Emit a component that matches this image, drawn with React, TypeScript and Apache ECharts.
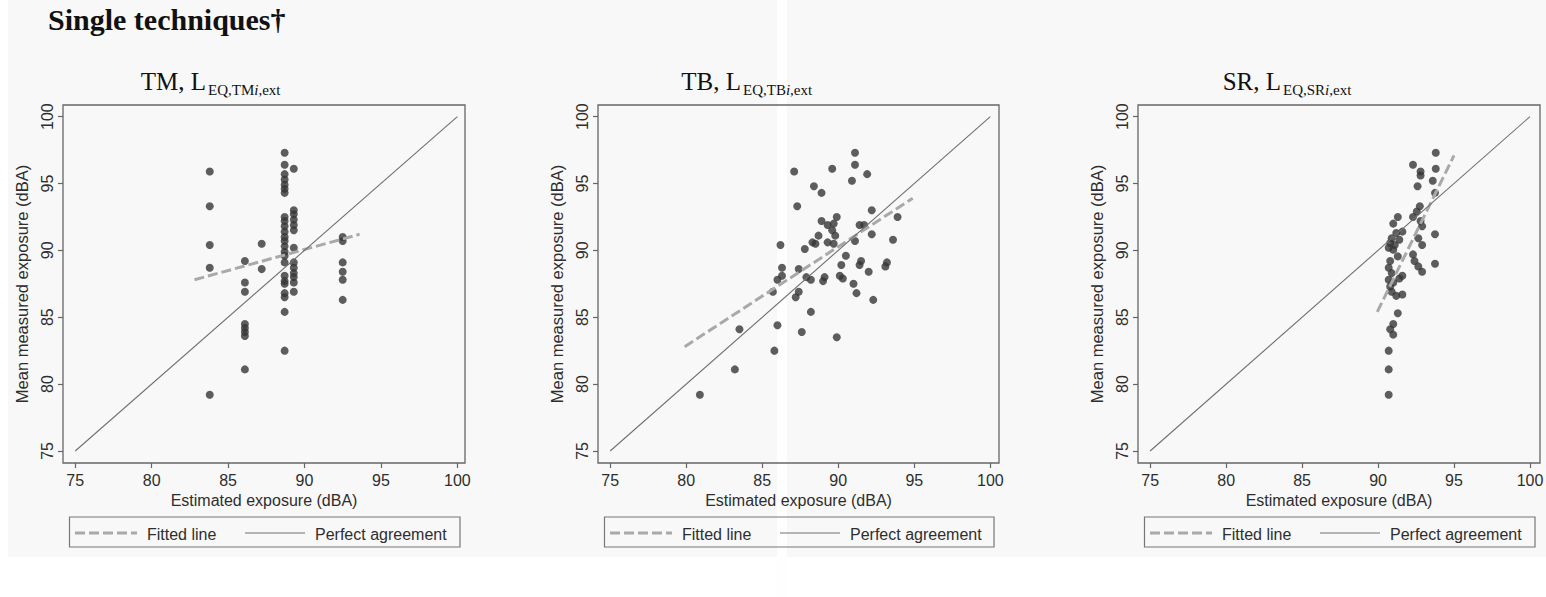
import React, { useEffect, useRef } from "react";
import * as echarts from "echarts";

// ---------- data ----------
const X_TICKS = [75, 80, 85, 90, 95, 100];
const Y_TICKS = [75, 80, 85, 90, 95, 100];

const tmPoints: [number, number][] = [
  [83.8, 95.9], [83.8, 93.3], [83.8, 90.4], [83.8, 88.7], [83.8, 79.2],
  [86.1, 89.2], [86.1, 87.6], [86.1, 86.9], [86.1, 84.5], [86.1, 84.2], [86.1, 83.9], [86.1, 83.6], [86.1, 81.1],
  [87.2, 90.5], [87.2, 88.6],
  [88.7, 97.3], [88.7, 96.4], [88.7, 95.7], [88.7, 95.3], [88.7, 94.9], [88.7, 94.6], [88.7, 94.3],
  [88.7, 92.5], [88.7, 92.2], [88.7, 91.8], [88.7, 91.4], [88.7, 91.0], [88.7, 90.7], [88.7, 90.3],
  [88.7, 89.9], [88.7, 89.6], [88.7, 89.1], [88.7, 88.1], [88.7, 87.7], [88.7, 87.5], [88.7, 86.8],
  [88.7, 86.5], [88.7, 85.4], [88.7, 82.5],
  [89.3, 96.1], [89.3, 93.0], [89.3, 92.7], [89.3, 92.3], [89.3, 91.9], [89.3, 91.5], [89.3, 90.2],
  [89.3, 89.1], [89.3, 88.7], [89.3, 88.3], [89.3, 88.0], [89.3, 87.6], [89.3, 86.9],
  [92.5, 91.0], [92.5, 90.7], [92.5, 89.1], [92.5, 88.4], [92.5, 87.8], [92.5, 86.3],
];

const tbPoints: [number, number][] = [
  [91.1, 97.3], [91.1, 96.4], [89.6, 96.1], [87.1, 95.9], [91.9, 95.7], [90.9, 95.2], [88.4, 94.8],
  [88.9, 94.3], [87.3, 93.3], [92.2, 93.0], [93.9, 92.5], [89.9, 92.5], [88.9, 92.2], [89.7, 92.0],
  [89.3, 91.9], [91.7, 91.9], [91.4, 91.9], [89.6, 91.5], [88.7, 91.1], [89.8, 91.1], [92.2, 91.2],
  [93.6, 90.8], [91.1, 90.7], [88.3, 90.6], [88.5, 90.5], [89.3, 90.6], [89.7, 90.5], [86.2, 90.4],
  [87.8, 90.1], [90.5, 89.6], [91.5, 89.2], [93.2, 89.1], [90.2, 88.9], [91.4, 88.9], [93.1, 88.8],
  [86.3, 88.7], [87.4, 88.6], [92.0, 88.4], [86.3, 88.1], [86.0, 87.8], [87.9, 88.0], [88.2, 87.8],
  [89.1, 88.0], [89.0, 87.7], [90.1, 88.1], [90.3, 87.9], [91.0, 87.5], [85.7, 86.9], [87.4, 86.9],
  [87.2, 86.5], [91.2, 86.8], [92.3, 86.3], [88.2, 85.4], [83.5, 84.1], [86.0, 84.4], [87.6, 83.9],
  [89.9, 83.5], [85.8, 82.5], [83.2, 81.1], [80.9, 79.2],
];

const srPoints: [number, number][] = [
  [93.8, 97.3], [92.3, 96.4], [93.8, 96.1], [92.8, 95.9], [92.8, 95.6], [93.6, 95.2], [92.6, 94.8],
  [93.75, 94.3], [92.75, 93.3], [92.55, 92.9], [91.3, 92.5], [91.0, 92.0], [92.3, 92.5], [92.8, 92.2],
  [92.9, 91.8], [91.6, 91.4], [91.2, 91.3], [90.9, 90.9], [91.4, 90.8], [90.8, 90.55], [91.1, 90.4],
  [90.7, 90.2], [91.0, 90.05], [92.65, 90.9], [92.9, 90.4], [93.75, 91.2], [93.75, 89.0], [92.3, 89.7],
  [92.4, 89.2], [92.65, 88.8], [92.9, 88.4], [90.8, 89.2], [90.7, 88.7], [90.9, 88.3], [90.7, 87.8],
  [91.0, 87.6], [91.4, 87.9], [91.6, 88.1], [91.3, 89.55], [90.8, 87.3], [90.9, 86.9], [91.2, 86.6],
  [91.6, 86.7], [91.3, 85.3], [91.0, 84.5], [90.8, 84.1], [91.0, 83.7], [90.7, 82.5], [90.7, 81.1],
  [90.7, 79.2],
];

const tmFit: [number, number][] = [[82.8, 87.8], [93.6, 91.2]];
const tbFit: [number, number][] = [[79.9, 82.8], [94.9, 93.9]];
const srFit: [number, number][] = [[89.95, 85.4], [95.0, 97.1]];
const perfect: [number, number][] = [[75, 75], [100, 100]];

const mainTitle = "Single techniques\u2020";
const panelNames = ["TM", "TB", "SR"];
const xTitle = "Estimated exposure (dBA)";
const yTitle = "Mean measured exposure (dBA)";
const legendLabels = ["Fitted line", "Perfect agreement"];

// ---------- layout ----------
const SANS = "'Liberation Sans', Arial, Helvetica, sans-serif";
const SERIF = "'Liberation Serif', 'Times New Roman', serif";
const GRID_TOP = 105;
const GRID_H = 358;
const X_MIN = 74.2;
const Y_MIN = 74.1;
const Y_MAX = 100.87;
const FRAME = "#666666";
const TEXT = "#2e2e2e";

const layout = [
  { left: 63, width: 402, xMax: 100.5 },
  { left: 598, width: 401, xMax: 100.57 },
  { left: 1138, width: 402, xMax: 100.66 },
];
const pointSets = [tmPoints, tbPoints, srPoints];
const fitSets = [tmFit, tbFit, srFit];

export default function App() {
  const ref = useRef<HTMLDivElement>(null);

  useEffect(() => {
    if (!ref.current) return;
    const chart = echarts.init(ref.current, undefined, { renderer: "svg" });

    const grids = layout.map((p) => ({
      left: p.left,
      top: GRID_TOP,
      width: p.width,
      height: GRID_H,
      show: true,
      borderColor: FRAME,
      borderWidth: 1.3,
      backgroundColor: "transparent",
      containLabel: false,
      outerBoundsMode: "none",
    }));

    const xAxes = layout.map((p, i) => ({
      type: "value",
      gridIndex: i,
      min: X_MIN,
      max: p.xMax,
      name: xTitle,
      nameLocation: "middle",
      nameGap: 26,
      nameTextStyle: { fontFamily: SANS, fontSize: 16, color: TEXT },
      axisLine: { show: false },
      axisTick: { show: true, length: 5, customValues: X_TICKS, lineStyle: { color: FRAME, width: 1.2 } },
      axisLabel: { customValues: X_TICKS, margin: 9, fontFamily: SANS, fontSize: 16, color: TEXT },
      splitLine: { show: false },
    }));

    const yAxes = layout.map((p, i) => ({
      type: "value",
      gridIndex: i,
      min: Y_MIN,
      max: Y_MAX,
      name: yTitle,
      nameLocation: "middle",
      nameRotate: 90,
      nameGap: 33,
      nameTextStyle: { fontFamily: SANS, fontSize: 16.5, color: TEXT },
      axisLine: { show: false },
      axisTick: { show: true, length: 5, customValues: Y_TICKS, lineStyle: { color: FRAME, width: 1.2 } },
      axisLabel: { customValues: Y_TICKS, rotate: 90, margin: 8, fontFamily: SANS, fontSize: 16, color: TEXT },
      splitLine: { show: false },
    }));

    const series: any[] = [];
    layout.forEach((_, i) => {
      series.push({
        type: "scatter",
        xAxisIndex: i,
        yAxisIndex: i,
        data: pointSets[i],
        symbol: "circle",
        symbolSize: 8,
        itemStyle: { color: "#363636" },
        z: 2,
      });
      series.push({
        type: "line",
        xAxisIndex: i,
        yAxisIndex: i,
        data: fitSets[i],
        symbol: "none",
        lineStyle: { color: "#a9a9a9", width: 3, type: [10, 4] },
        z: 3,
      });
      series.push({
        type: "line",
        xAxisIndex: i,
        yAxisIndex: i,
        data: perfect,
        symbol: "none",
        lineStyle: { color: "#707070", width: 1.1 },
        z: 3,
      });
    });

    const graphics: any[] = [
      { type: "rect", z: -10, shape: { x: 8, y: 0, width: 1538, height: 557 }, style: { fill: "#f8f8f8" } },
      { type: "rect", z: -9, shape: { x: 777, y: 0, width: 10, height: 597 }, style: { fill: "#fefefe" } },
      {
        type: "text",
        x: 48,
        y: 19,
        style: { text: mainTitle, font: `bold 30px ${SERIF}`, fill: "#111", textAlign: "left", textVerticalAlign: "middle" },
      },
    ];

    layout.forEach((p, i) => {
      const L = p.left;
      const R = p.left + p.width;
      graphics.push({
        type: "text",
        x: L + 143,
        y: 81,
        style: { text: `${panelNames[i]}, L`, font: `25px ${SERIF}`, fill: "#111", textAlign: "right", textVerticalAlign: "middle" },
      });
      graphics.push({
        type: "text",
        x: L + 145,
        y: 90,
        style: {
          text: `{a|EQ,${panelNames[i]}}{b|i}{a|,ext}`,
          textAlign: "left",
          textVerticalAlign: "middle",
          rich: {
            a: { fontFamily: SERIF, fontSize: 15, fill: "#111", color: "#111" },
            b: { fontFamily: SERIF, fontSize: 15, fontStyle: "italic", fill: "#111", color: "#111" },
          },
        },
      });
      // legend
      graphics.push({
        type: "rect",
        shape: { x: L + 6.5, y: 517, width: R - 5 - (L + 6.5), height: 30 },
        style: { fill: "none", stroke: "#777", lineWidth: 1.2 },
      });
      graphics.push({
        type: "line",
        shape: { x1: L + 12, y1: 533, x2: L + 74, y2: 533 },
        style: { stroke: "#a9a9a9", lineWidth: 3, lineDash: [10, 4] },
      });
      graphics.push({
        type: "text",
        x: L + 84,
        y: 534,
        style: { text: legendLabels[0], font: `16px ${SANS}`, fill: TEXT, textAlign: "left", textVerticalAlign: "middle" },
      });
      graphics.push({
        type: "line",
        shape: { x1: L + 182, y1: 533, x2: L + 242, y2: 533 },
        style: { stroke: "#707070", lineWidth: 1.1 },
      });
      graphics.push({
        type: "text",
        x: L + 252,
        y: 534,
        style: { text: legendLabels[1], font: `16px ${SANS}`, fill: TEXT, textAlign: "left", textVerticalAlign: "middle" },
      });
    });

    chart.setOption({
      animation: false,
      backgroundColor: "#ffffff",
      grid: grids,
      xAxis: xAxes,
      yAxis: yAxes,
      series,
      graphic: { elements: graphics },
    } as any);

    return () => chart.dispose();
  }, []);

  return (
    <div
      ref={ref}
      style={{ position: "absolute", left: 0, top: 0, width: 1546, height: 597 }}
    />
  );
}
